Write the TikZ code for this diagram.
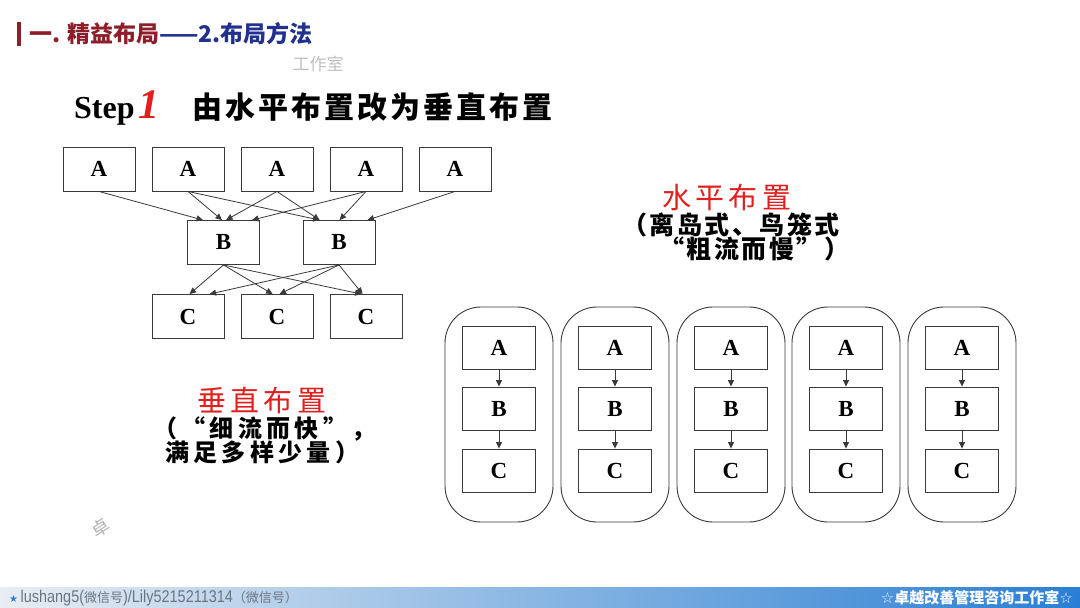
\documentclass[tikz,border=0pt]{standalone}
\usepackage{fontspec}
\setmainfont{Liberation Serif}
\newfontfamily\cjk[LetterSpace=10]{Noto Sans CJK SC}
\newfontfamily\cjkm[LetterSpace=15]{Noto Sans CJK SC}
\newfontfamily\cjkw[LetterSpace=18]{Noto Sans CJK SC}
\newfontfamily\cjkn{Noto Sans CJK SC}
\newfontfamily\dejavu{DejaVu Sans}
\newfontfamily\foot[FakeStretch=0.85]{Liberation Sans}
\usetikzlibrary{arrows.meta}
\definecolor{titlered}{HTML}{8E1F2A}
\definecolor{titleblue}{HTML}{22308F}
\definecolor{hred}{HTML}{E0201E}
\definecolor{barleft}{HTML}{E8EDF2}
\definecolor{barmid}{HTML}{B4CDE8}
\definecolor{barright}{HTML}{2A7FD4}
\definecolor{linegray}{HTML}{3A3A3A}
\definecolor{foottext}{HTML}{6A7584}
\begin{document}
\begin{tikzpicture}[x=1pt,y=-1pt,
  box/.style={draw=linegray, line width=0.9pt, minimum width=72pt, minimum height=44pt, inner sep=0pt,
    font=\fontsize{23}{23}\selectfont\bfseries},
  ibox/.style={box, minimum width=73pt, minimum height=43pt},
  cont/.style={draw=linegray, line width=0.9pt, rounded corners=36pt, minimum width=108pt, minimum height=215pt, inner sep=0pt},
  arr/.style={-{Triangle[length=6.5pt,width=6pt]}, draw=linegray, line width=0.8pt},
  cjklabel/.style={inner sep=0pt, anchor=west}]
\useasboundingbox (0,0) rectangle (1080,608);
\fill[white] (0,0) rectangle (1080,608);

% watermark fragments
\node[text=black!25, inner sep=0pt] (wm1) at (318,64) {\cjkn\fontsize{17}{17}\selectfont 工作室};
\node[rotate=32, text=black!30, inner sep=0pt] (wm2) at (104,534) {\smash{\cjkn\fontsize{18}{18}\selectfont 卓}};

% title
\fill[titlered] (17,22) rectangle (21,46);
\node[cjklabel] (title) at (29,34) {\cjkn\bfseries\fontsize{23}{23}\selectfont\color{titlered}一. 精益布局\color{titleblue}——2.布局方法};

% step heading
\node[inner sep=0pt, anchor=base west] (step) at (74,118) {\fontsize{32}{32}\selectfont\bfseries Step};
\node[inner sep=0pt, anchor=base west, text=hred] (one) at ([xshift=3pt]step.base east) {\fontsize{42}{42}\selectfont\bfseries\itshape 1};
\node[inner sep=0pt, anchor=base west] (head) at (192,118) {\cjk\bfseries\fontsize{30}{30}\selectfont 由水平布置改为垂直布置};

% left network
\foreach \i/\x in {1/99,2/188,3/277,4/366,5/455}
  \node[box] (a\i) at (\x,169) {A};
\node[box] (b1) at (223.5,242.5) {B};
\node[box] (b2) at (339,242.5) {B};
\foreach \i/\x in {1/188,2/277,3/366}
  \node[box] (c\i) at (\x,316.5) {C};

\draw[arr] (a1.south) -- ([xshift=16pt]b1.north west);
\draw[arr] (a2.south) -- ([xshift=35pt]b1.north west);
\draw[arr] (a2.south) -- ([xshift=17pt]b2.north west);
\draw[arr] (a3.south) -- ([xshift=39pt]b1.north west);
\draw[arr] (a3.south) -- ([xshift=17pt]b2.north west);
\draw[arr] (a4.south) -- ([xshift=65pt]b1.north west);
\draw[arr] (a4.south) -- ([xshift=37pt]b2.north west);
\draw[arr] (a5.south) -- ([xshift=65pt]b2.north west);

\draw[arr] (b1.south) -- ([xshift=38pt]c1.north west);
\draw[arr] (b1.south) -- ([xshift=32pt]c2.north west);
\draw[arr] (b1.south) -- ([xshift=32pt]c3.north west);
\draw[arr] (b2.south) -- ([xshift=58pt]c1.north west);
\draw[arr] (b2.south) -- ([xshift=39pt]c2.north west);
\draw[arr] (b2.south) -- ([xshift=33pt]c3.north west);

% right cells
\foreach \k/\x in {1/499,2/615,3/731,4/846,5/962} {
  \node[cont] (k\k) at (\x,414.5) {};
  \node[ibox] (ka\k) at (\x,347.5) {A};
  \node[ibox] (kb\k) at (\x,408.5) {B};
  \node[ibox] (kc\k) at (\x,470.5) {C};
  \draw[arr] (ka\k) -- (kb\k);
  \draw[arr] (kb\k) -- (kc\k);
}

% labels
\node[cjklabel, text=hred] (hz) at (662,197) {\cjkm\fontsize{29}{29}\selectfont 水平布置};
\node[cjklabel] (hz1) at (622,225) {\cjk\bfseries\fontsize{25}{25}\selectfont （离岛式、鸟笼式};
\node[cjklabel] (hz2) at (659,249) {\cjk\bfseries\fontsize{25}{25}\selectfont “粗流而慢”）};

\node[cjklabel, text=hred] (vt) at (197,400) {\cjkm\fontsize{29}{29}\selectfont 垂直布置};
\node[cjklabel] (vt1) at (153,429) {\cjkw\bfseries\fontsize{24}{24}\selectfont （“细流而快”，};
\node[cjklabel] (vt2) at (165,452) {\cjkw\bfseries\fontsize{24}{24}\selectfont 满足多样少量）};

% footer
\shade[left color=barleft, middle color=barmid, right color=barright] (0,587) rectangle (1080,608);
\node[cjklabel, text=foottext] (ft1) at (9,598) {{\dejavu\fontsize{10}{10}\selectfont\color{barright}★} \foot\fontsize{17}{17}\selectfont lushang5({\cjkn\fontsize{13}{13}\selectfont 微信号})/Lily5215211314{\cjkn\fontsize{13}{13}\selectfont （微信号）}};
\node[inner sep=0pt, anchor=east, text=white] (ft2) at (1073,598) {\fontsize{15}{15}\selectfont{\dejavu ☆}\cjkn\bfseries 卓越改善管理咨询工作室{\dejavu ☆}};
\end{tikzpicture}
\end{document}
